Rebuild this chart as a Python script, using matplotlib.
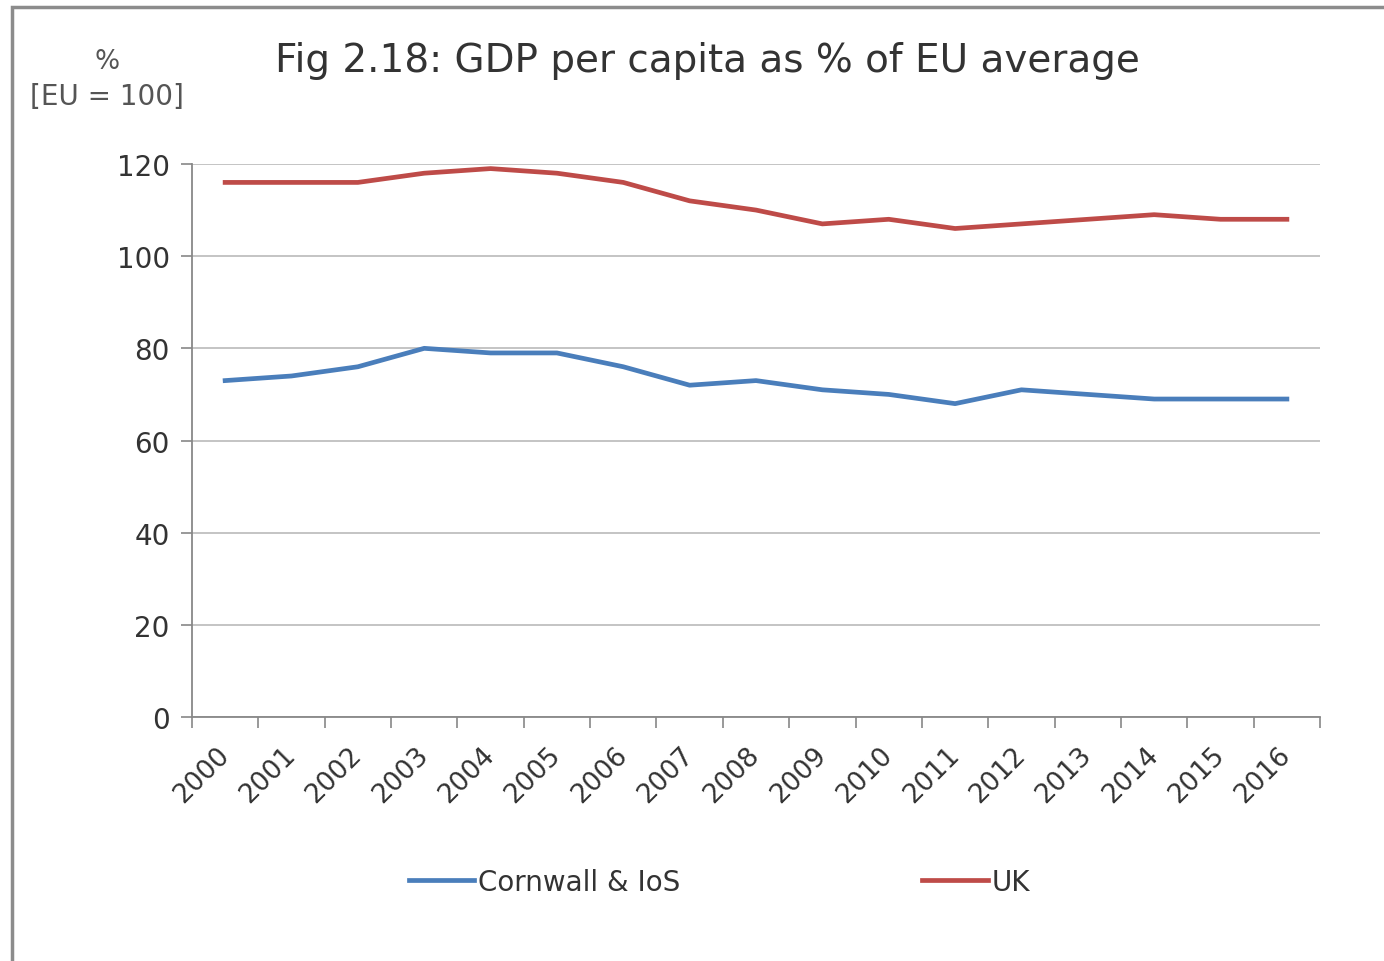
import numpy as np
import matplotlib.pyplot as plt
from matplotlib.patches import Rectangle

years = ['2000', '2001', '2002', '2003', '2004', '2005', '2006', '2007', '2008',
         '2009', '2010', '2011', '2012', '2013', '2014', '2015', '2016']
cornwall = [73, 74, 76, 80, 79, 79, 76, 72, 73, 71, 70, 68, 71, 70, 69, 69, 69]
uk = [116, 116, 116, 118, 119, 118, 116, 112, 110, 107, 108, 106, 107, 108, 109, 108, 108]

txt = '#333333'
fig = plt.figure(figsize=(13.84, 9.62), dpi=100)
ax = fig.add_axes([0.1387, 0.2536, 0.8151, 0.5749])

x = np.arange(len(years))
ax.plot(x, cornwall, color='#4A7EBB', lw=3.4, label='Cornwall & IoS', solid_joinstyle='round')
ax.plot(x, uk, color='#BE4B48', lw=3.4, label='UK', solid_joinstyle='round')

ax.set_xlim(-0.5, len(years) - 0.5)
ax.set_ylim(0, 120)
ax.set_yticks(range(0, 121, 20))
ax.grid(axis='y', color='#BFBFBF', lw=1.3)
ax.set_axisbelow(True)

ax.set_xticks(x)
ax.set_xticklabels(years, rotation=45, ha='right', va='center', rotation_mode='anchor')
ax.set_xticks(np.arange(-0.5, len(years)), minor=True)
ax.tick_params(axis='x', which='major', length=0, pad=24, labelsize=19, labelcolor=txt)
ax.tick_params(axis='x', which='minor', length=8, width=1.2, color='#888888')
ax.tick_params(axis='y', length=8, width=1.2, color='#888888', pad=8, labelsize=20, labelcolor=txt)

for s in ['top', 'right']:
    ax.spines[s].set_visible(False)
for s in ['left', 'bottom']:
    ax.spines[s].set_color('#888888')
    ax.spines[s].set_linewidth(1.3)

fig.text(0.511, 0.937, 'Fig 2.18: GDP per capita as % of EU average', ha='center', va='center',
         fontsize=28, color=txt)
fig.text(0.0775, 0.936, '%', ha='center', va='center', fontsize=19, color='#555555')
fig.text(0.0775, 0.899, '[EU = 100]', ha='center', va='center', fontsize=20, color='#555555')

fig.legend(loc='center', bbox_to_anchor=(0.52, 0.082), ncol=2, frameon=False, fontsize=20,
           handlelength=2.35, handletextpad=0.15, columnspacing=8.7, labelcolor=txt)

fig.patches.append(Rectangle((0.009, -0.1), 1.1, 1.092, transform=fig.transFigure,
                             fill=False, edgecolor='#8C8C8C', lw=2.5))

fig.savefig('out.png', dpi=100)
